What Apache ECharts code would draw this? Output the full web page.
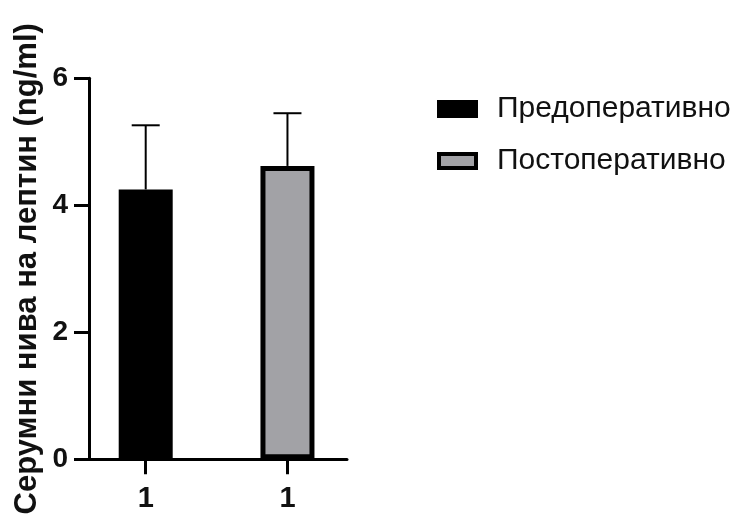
<!DOCTYPE html>
<html><head><meta charset="utf-8">
<script src="https://cdn.jsdelivr.net/npm/echarts@6/dist/echarts.min.js"></script>
<style>html,body{margin:0;padding:0;background:#fff}#c{width:744px;height:518px}</style>
</head><body><div id="c"></div>
<script>
const seriesNames = ['Предоперативно', 'Постоперативно'];
const tickLabels = ['1', '1'];
const means = [4.25, 4.62];
const sds = [1.01, 0.83];
const yTicks = [0, 2, 4, 6];
const yTitle = 'Серумни нива на лептин (ng/ml)';

const fills = ['#000000', '#a2a2a6'];
const font = 'Liberation Sans, Arial, sans-serif';

const chart = echarts.init(document.getElementById('c'));
const barSeries = seriesNames.map((n, i) => ({
  name: n, type: 'bar', barWidth: 54, barGap: '-100%',
  data: [[i, means[i]]],
  itemStyle: { color: fills[i], borderColor: '#000', borderWidth: 5 },
  z: 2
}));
const errSeries = {
  type: 'custom', z: 3, silent: true,
  data: means.map((m, i) => [i, m, m + sds[i]]),
  renderItem: function (params, api) {
    const b = api.coord([api.value(0), api.value(1)]);
    const t = api.coord([api.value(0), api.value(2)]);
    const hw = 14;
    return { type: 'group', children: [
      { type: 'line', shape: { x1: b[0], y1: b[1], x2: t[0], y2: t[1] }, style: { stroke: '#000', lineWidth: 2 } },
      { type: 'line', shape: { x1: t[0] - hw, y1: t[1], x2: t[0] + hw, y2: t[1] }, style: { stroke: '#000', lineWidth: 2 } }
    ]};
  }
};
chart.setOption({
  animation: false,
  backgroundColor: '#fff',
  grid: { left: 89, right: 744 - 347, top: 78.3, bottom: 518 - 459.3 },
  legend: {
    orient: 'vertical', left: 432, top: 89,
    itemWidth: 37, itemHeight: 14, itemGap: 22,
    icon: 'rect',
    itemStyle: { borderColor: '#000', borderWidth: 4 },
    data: seriesNames,
    textStyle: { fontFamily: font, fontSize: 30, color: '#111', padding: [0, 0, 0, 16] }
  },
  xAxis: {
    type: 'value', min: -0.4, max: 1.42,
    splitLine: { show: false },
    axisLine: { lineStyle: { color: '#000', width: 3 } },
    axisTick: { customValues: [0, 1], length: 15, lineStyle: { color: '#000', width: 3 } },
    axisLabel: { customValues: [0, 1], formatter: v => tickLabels[Math.round(v)], margin: 25,
      fontFamily: font, fontSize: 29, fontWeight: 'bold', color: '#111' }
  },
  yAxis: {
    type: 'value', min: 0, max: 6, interval: 2,
    name: yTitle, nameLocation: 'middle', nameGap: 46,
    nameTextStyle: { fontFamily: font, fontSize: 31, fontWeight: 'bold', color: '#111' },
    splitLine: { show: false },
    axisLine: { show: true, onZero: false, lineStyle: { color: '#000', width: 3 } },
    axisTick: { show: true, length: 15, lineStyle: { color: '#000', width: 3 } },
    axisLabel: { margin: 21, fontFamily: font, fontSize: 28, fontWeight: 'bold', color: '#111' }
  },
  series: [...barSeries, errSeries]
});
</script></body></html>
